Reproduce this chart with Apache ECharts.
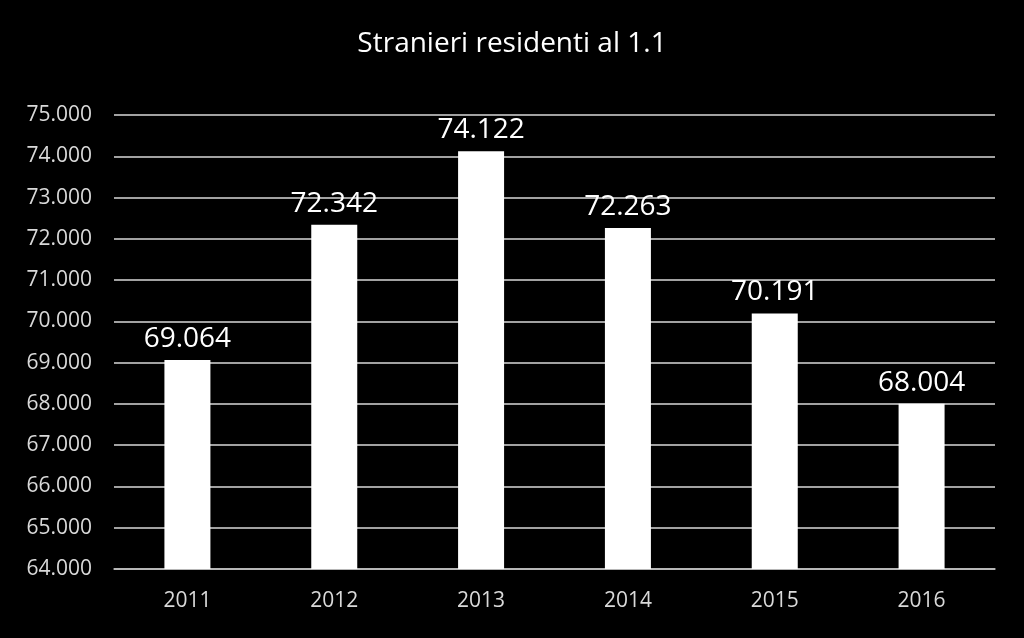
<!DOCTYPE html>
<html><head><meta charset="utf-8">
<style>html,body{margin:0;padding:0;background:#000;}#c{width:1024px;height:638px;}</style>
<script src="https://cdn.jsdelivr.net/npm/echarts@6/dist/echarts.min.js"></script>
</head><body><div id="c"></div>
<script>
const categories = ['2011','2012','2013','2014','2015','2016'];
const values = [69064, 72342, 74122, 72263, 70191, 68004];
const titleText = 'Stranieri residenti al 1.1';
function fmt(v){ return String(v).replace(/\B(?=(\d{3})+(?!\d))/g, '.'); }
const chart = echarts.init(document.getElementById('c'));
chart.setOption({
  backgroundColor: '#000',
  animation: false,
  title: { text: titleText, left: 'center', top: 25, textStyle: { color: '#fff', fontSize: 28, fontWeight: 'normal', fontFamily: 'Open Sans' } },
  grid: { left: 114, right: 29, top: 115, bottom: 69 },
  xAxis: { type: 'category', data: categories,
    axisLine: { lineStyle: { color: '#bfbfbf', width: 1.5 } }, axisTick: { show: false },
    axisLabel: { color: '#d9d9d9', fontSize: 21, fontFamily: 'Open Sans', margin: 22 } },
  yAxis: { type: 'value', min: 64000, max: 75000, interval: 1000,
    axisLine: { show: false }, axisTick: { show: false },
    splitLine: { lineStyle: { color: '#d9d9d9', width: 1.5 } },
    axisLabel: { color: '#d9d9d9', fontSize: 21, fontFamily: 'Open Sans', margin: 22, formatter: fmt } },
  series: [{ type: 'bar', data: values, barWidth: 46, itemStyle: { color: '#fff' },
    label: { show: true, position: 'top', distance: 7, color: '#fff', fontSize: 28, fontFamily: 'Open Sans', formatter: p => fmt(p.value) } }]
});
</script></body></html>
